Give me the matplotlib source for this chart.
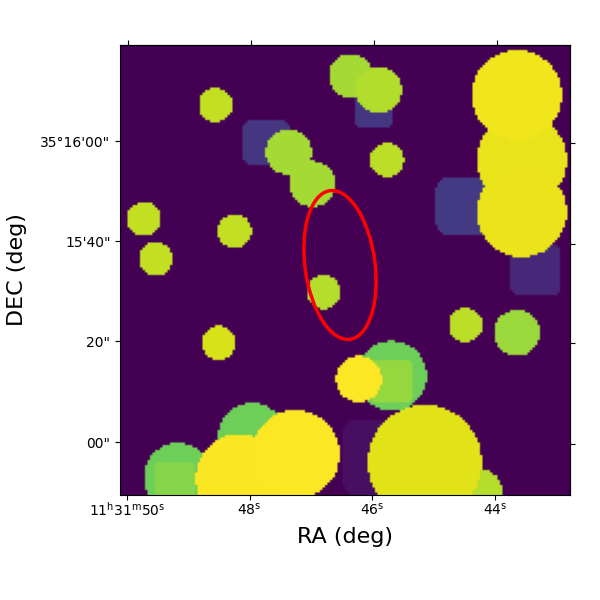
import numpy as np
import matplotlib
matplotlib.use('Agg')
import matplotlib.pyplot as plt
from matplotlib.patches import Ellipse

# sources, in image coordinates: x, y, radius, colour value
circle_x = [351, 379, 216, 289, 313, 387, 522, 517, 522, 144, 235, 156, 324, 219, 466, 517,
            252, 178, 392, 482, 240, 296, 425, 359]
circle_y = [76, 90, 105, 152, 184, 160, 160, 95, 212, 219, 231, 259, 292, 343, 325, 333,
            437, 477, 376, 490, 478, 454, 462, 379]
circle_r = [22, 23, 17, 23, 23, 17, 45, 45, 45, 17, 17, 17, 17, 17, 17, 23,
            34, 34, 35, 20, 44, 44, 57, 23]
circle_v = [0.865, 0.885, 0.91, 0.865, 0.865, 0.90, 0.965, 0.98, 0.97, 0.91, 0.91, 0.91, 0.89, 0.94, 0.90, 0.85,
            0.78, 0.78, 0.78, 0.89, 0.995, 1.00, 0.955, 1.00]

# faint blocks: left, right, top, bottom, corner, colour value
box_left = [243, 356, 436, 511, 343]
box_right = [290, 393, 495, 561, 400]
box_top = [119, 90, 177, 245, 420]
box_bottom = [165, 127, 236, 295, 495]
box_corner = [10, 4, 14, 8, 14]
box_v = [0.16, 0.16, 0.17, 0.11, 0.04]

# lighter blocks inside two of the big sources
inner_left = [154, 370]
inner_right = [195, 412]
inner_top = [463, 361]
inner_bottom = [500, 402]
inner_corner = [4, 4]
inner_v = [0.82, 0.84]

ra_labels = [r'$\mathdefault{11^{h}31^{m}50^{s}}$', r'$\mathdefault{48^{s}}$',
             r'$\mathdefault{46^{s}}$', r'$\mathdefault{44^{s}}$']
dec_labels = ['35°16\'00"', '15\'40"', '20"', '00"']
bottom_ticks = [126.8, 249.5, 372, 494.8]
top_ticks = [128, 251, 373.6, 496.6]
left_ticks = [141.5, 241.5, 341.5, 442.2]
right_ticks = [142.6, 243.6, 343.3, 443.6]

X0, X1, Y0, Y1 = 120.2, 570.0, 45, 495


def box_mask(xx, yy, l, r, t, b, c):
    # rounded rectangle
    dx = np.abs(xx - (l + r) / 2) - ((r - l) / 2 - c)
    dy = np.abs(yy - (t + b) / 2) - ((b - t) / 2 - c)
    d = np.hypot(np.maximum(dx, 0), np.maximum(dy, 0)) + np.minimum(np.maximum(dx, dy), 0)
    return d <= c


xs = np.arange(X0 + 1.25, X1, 2.5)
ys = np.arange(Y0 + 1.25, Y1, 2.5)
xx, yy = np.meshgrid(xs, ys)
img = np.zeros_like(xx)

for l, r, t, b, c, v in zip(box_left, box_right, box_top, box_bottom, box_corner, box_v):
    img[box_mask(xx, yy, l, r, t, b, c)] = v
for i in range(len(circle_x)):
    # the two inner blocks go on just after their own source
    img[np.hypot(xx - circle_x[i], yy - circle_y[i]) <= circle_r[i]] = circle_v[i]
    if i == 17 or i == 18:
        j = i - 17
        img[box_mask(xx, yy, inner_left[j], inner_right[j], inner_top[j], inner_bottom[j], inner_corner[j])] = inner_v[j]

fig = plt.figure(figsize=(6, 6), dpi=100)
ax = fig.add_axes([X0 / 600, 1 - Y1 / 600, (X1 - X0) / 600, (Y1 - Y0) / 600])
ax.imshow(img, cmap='viridis', vmin=0, vmax=1, origin='upper', extent=[X0, X1, Y1, Y0], aspect='auto')
ax.add_patch(Ellipse((340, 265), 70, 150, angle=-7.7, fill=False, edgecolor='red', linewidth=2.5))
ax.set_xlim(X0, X1)
ax.set_ylim(Y1, Y0)

ax.set_xticks(bottom_ticks)
ax.set_xticklabels(ra_labels)
ax.set_yticks(left_ticks)
ax.set_yticklabels(dec_labels)
ax.tick_params(axis='x', pad=1)
ax.set_xlabel('RA (deg)', fontsize=16)
ax.set_ylabel('DEC (deg)', fontsize=16)
ax.xaxis.set_label_coords(0.5, -0.072)
ax.yaxis.set_label_coords(-0.208, 0.5)

top = ax.secondary_xaxis('top')
top.set_xticks(top_ticks)
top.set_xticklabels([])
right = ax.secondary_yaxis('right')
right.set_yticks(right_ticks)
right.set_yticklabels([])

plt.savefig('out.png', dpi=100)
